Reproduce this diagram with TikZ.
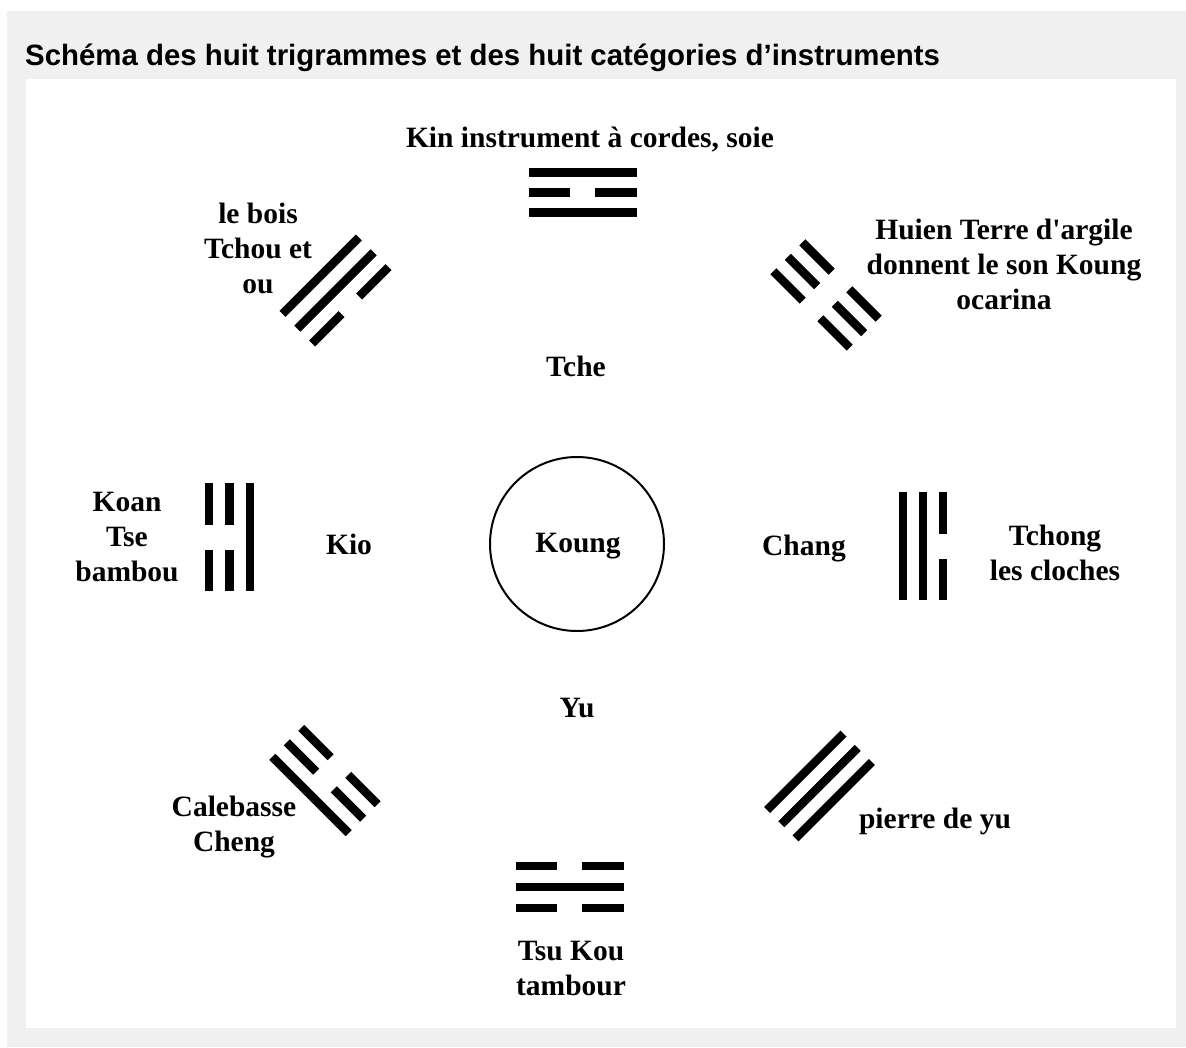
\documentclass[tikz,border=0pt]{standalone}
\usepackage{fontspec}
\setmainfont{Liberation Serif}
\newfontfamily\titlefont{Liberation Sans}
\definecolor{bggray}{RGB}{240,240,240}
\newcommand\straightquote{\XeTeXglyph\XeTeXcharglyph"0027\relax}
\newcommand\fullbar[1]{\draw[bar] (-54,#1) -- (54,#1);}
\newcommand\brokenbar[1]{\draw[bar] (-54,#1) -- (-12.5,#1); \draw[bar] (12.5,#1) -- (54,#1);}
\begin{document}
\begin{tikzpicture}[x=1pt,y=-1pt,
  bar/.style={line width=8.5pt, line cap=butt, black},
  lbl/.style={font=\bfseries\fontsize{29.5}{35}\selectfont, align=center, inner sep=0pt, text=black},
  ttl/.style={font=\titlefont\bfseries\fontsize{29.4}{35}\selectfont, inner sep=0pt, anchor=base west}]
\useasboundingbox (0,0) rectangle (1186,1047);
\fill[white] (0,0) rectangle (1186,1047);
\fill[bggray] (7,11) rectangle (1186,1047);
\fill[white] (26,79) rectangle (1176,1028);
\node[ttl] (title) at (25,65) {Schéma des huit trigrammes et des huit catégories d’instruments};

% centre
\node[draw, circle, line width=2pt, minimum size=174pt, inner sep=0pt] (koung) at (577,544) {};
\node[lbl] (koungt) at (578,546) {Koung};
\node[lbl] (tche) at (576,366) {Tche};
\node[lbl] (yu) at (577,708) {Yu};
\node[lbl] (kio) at (349,544) {Kio};
\node[lbl] (chang) at (804,549) {Chang};

% labels
\node[lbl] (kin) at (590,140) {Kin instrument à cordes, soie};
\node[lbl] (bois) at (258,248) {le bois\\Tchou et\\ou};
\node[lbl] (huien) at (1004,264) {Huien Terre d\straightquote argile\\donnent le son Koung\\ocarina};
\node[lbl] (koan) at (127,537) {Koan\\Tse\\bambou};
\node[lbl] (tchong) at (1055,553) {Tchong\\les cloches};
\node[lbl] (cale) at (234,827) {Calebasse\\Cheng};
\node[lbl] (pierre) at (935,821) {pierre de yu};
\node[lbl] (tsu) at (571,969) {Tsu Kou\\tambour};

% trigrams
\begin{scope}[shift={(582.5,192.5)}] % N
  \fullbar{-20} \brokenbar{0} \fullbar{20}
\end{scope}
\begin{scope}[shift={(569.5,887)}] % S
  \brokenbar{-21} \fullbar{0} \brokenbar{21}
\end{scope}
\begin{scope}[shift={(229.5,537)}, rotate=90] % W
  \brokenbar{-20.5} \brokenbar{0} \fullbar{20.5}
\end{scope}
\begin{scope}[shift={(923,546)}, rotate=90] % E
  \fullbar{-20} \fullbar{0} \brokenbar{20}
\end{scope}
\begin{scope}[shift={(335.5,290.5)}, rotate=45] % NW
  \fullbar{-21} \fullbar{0} \brokenbar{21}
\end{scope}
\begin{scope}[shift={(826,295)}, rotate=-45] % NE
  \brokenbar{-20.5} \brokenbar{0} \brokenbar{20.5}
\end{scope}
\begin{scope}[shift={(325,780.5)}, rotate=-45] % SW
  \brokenbar{-20.5} \brokenbar{0} \fullbar{20.5}
\end{scope}
\begin{scope}[shift={(819.5,786)}, rotate=45] % SE
  \fullbar{-20} \fullbar{0} \fullbar{20}
\end{scope}
\end{tikzpicture}
\end{document}
